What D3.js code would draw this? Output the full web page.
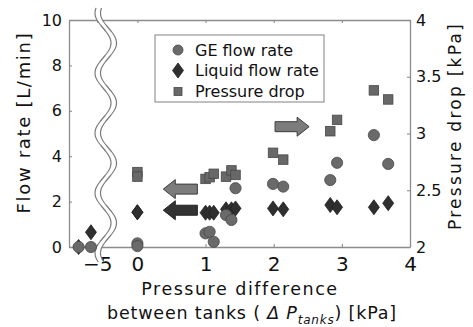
<!DOCTYPE html>
<html>
<head>
<meta charset="utf-8">
<script src="https://cdn.jsdelivr.net/npm/d3@7"></script>
<style>
  html, body { margin: 0; padding: 0; background: #fff; }
  svg { display: block; font-family: "DejaVu Sans", "Liberation Sans", sans-serif; }
</style>
</head>
<body>
<svg id="chart" width="473" height="327"></svg>
<script>
// Pressure difference between the tanks for each run [kPa]
const dpTanks = [-5.27, -5.09, 0, 0, 1.0, 1.06, 1.12, 1.3, 1.38, 1.44, 1.99, 2.14, 2.83, 2.93, 3.47, 3.68];
// GE flow rate [L/min]
const geFlow = [0, 0, 0.16, 0.04, 0.6, 0.67, 0.23, 1.41, 1.19, 2.59, 2.78, 2.66, 2.95, 3.71, 4.93, 3.66];
// Liquid flow rate [L/min]
const liquidFlow = [0, 0.65, 1.53, 1.53, 1.51, 1.51, 1.51, 1.66, 1.66, 1.70, 1.70, 1.66, 1.85, 1.75, 1.75, 1.93];
// Pressure drop [kPa] (not measured for the reversed runs)
const pressureDrop = [null, null, 2.66, 2.62, 2.60, 2.615, 2.645, 2.62, 2.675, 2.635, 2.83, 2.77, 3.02, 3.12, 3.38, 3.30];

const xTicks = [-5, 0, 1, 2, 3, 4];
const flowTicks = [0, 2, 4, 6, 8, 10];
const dropTicks = [2, 2.5, 3, 3.5, 4];
const legendLabels = ["GE flow rate", "Liquid flow rate", "Pressure drop"];

const svg = d3.select("#chart");
const plot = { left: 69, right: 410, top: 20, bottom: 247 };
const axisColor = "#8c8c8c";
const textColor = "#111";
const fontFamily = '"DejaVu Sans", "Liberation Sans", sans-serif';

// Broken x scale: a short segment around -5, then 0..4
const breakPx = 104;
const x = d3.scaleLinear()
  .domain([-5.41, -4.9, -0.49, 4])
  .range([plot.left, breakPx, breakPx, plot.right]);
const yFlow = d3.scaleLinear().domain([0, 10]).range([plot.bottom, plot.top]);
const yDrop = d3.scaleLinear().domain([2, 4]).range([plot.bottom, plot.top]);

function styleAxis(g, fontSize) {
  g.attr("font-family", fontFamily).attr("font-size", fontSize);
  g.select(".domain").attr("stroke", axisColor).attr("stroke-width", 1.3);
  g.selectAll(".tick line").attr("stroke", axisColor).attr("stroke-width", 1.1);
  g.selectAll(".tick text").attr("fill", textColor);
}

const fmt = d3.format("~g");

svg.append("g")
  .attr("transform", `translate(0,${plot.top})`)
  .call(d3.axisTop(x).tickValues(xTicks).tickSize(-3).tickSizeOuter(0).tickFormat(""))
  .call(g => styleAxis(g, 20));

svg.append("g")
  .attr("transform", `translate(${plot.left},0)`)
  .call(d3.axisLeft(yFlow).tickValues(flowTicks).tickSize(-3).tickSizeOuter(0).tickPadding(7).tickFormat(fmt))
  .call(g => styleAxis(g, 16));

svg.append("g")
  .attr("transform", `translate(${plot.right},0)`)
  .call(d3.axisRight(yDrop).tickValues(dropTicks).tickSize(-3).tickSizeOuter(0).tickPadding(6).tickFormat(fmt))
  .call(g => styleAxis(g, 16));

svg.append("g")
  .attr("transform", `translate(0,${plot.bottom})`)
  .call(d3.axisBottom(x).tickValues(xTicks).tickSize(-3).tickSizeOuter(0).tickPadding(10).tickFormat(fmt))
  .call(g => styleAxis(g, 20));

// Axis break: two wavy lines with a white band between them
const wave = y => breakPx - 1 + 8 * Math.sin(2 * Math.PI * (y - 28) / 60);
const gap = 5.5;
const ys = d3.range(8, 263, 1);
svg.append("path")
  .datum(ys)
  .attr("fill", "#fff")
  .attr("d", d3.area().y(d => d).x0(d => wave(d)).x1(d => wave(d) + gap));
[0, gap].forEach(off => {
  svg.append("path")
    .datum(ys)
    .attr("fill", "none")
    .attr("stroke", "#7a7a7a")
    .attr("stroke-width", 1.2)
    .attr("d", d3.line().y(d => d).x(d => wave(d) + off));
});

// Direction arrows: which axis each series belongs to
function arrowPath(x0, x1, yc, dir) {
  const bh = 5, hh = 9.5, hl = 12;
  const tip = dir < 0 ? x0 : x1;
  const tail = dir < 0 ? x1 : x0;
  const s = dir < 0 ? 1 : -1;
  const hb = tip + s * hl;
  return `M${tip},${yc} L${hb},${yc - hh} L${hb},${yc - bh} L${tail},${yc - bh} ` +
         `L${tail},${yc + bh} L${hb},${yc + bh} L${hb},${yc + hh} Z`;
}
const arrows = [
  { x0: 0.38, x1: 0.88, y: 2.55, dir: -1, fill: "#7c7c7c", stroke: "#3c3c3c" },
  { x0: 0.38, x1: 0.88, y: 1.62, dir: -1, fill: "#333", stroke: "#222" },
  { x0: 2.02, x1: 2.52, y: 5.3, dir: 1, fill: "#7c7c7c", stroke: "#3c3c3c" }
];
svg.append("g").selectAll("path")
  .data(arrows)
  .join("path")
  .attr("d", d => arrowPath(x(d.x0), x(d.x1), yFlow(d.y), d.dir))
  .attr("fill", d => d.fill)
  .attr("stroke", d => d.stroke)
  .attr("stroke-width", 1);

// Markers
const circleStyle = { fill: "#6a6a6a", stroke: "#484848" };
const squareStyle = { fill: "#686868", stroke: "#484848" };
const diamondStyle = { fill: "#2f2f2f", stroke: "#1e1e1e" };
const sq = 9.5;
const diamondD = (cx, cy) => `M${cx},${cy - 7.5} L${cx + 5.5},${cy} L${cx},${cy + 7.5} L${cx - 5.5},${cy} Z`;

const runs = dpTanks.map((d, i) => ({ dp: d, ge: geFlow[i], liq: liquidFlow[i], pd: pressureDrop[i] }));

svg.append("g").selectAll("rect")
  .data(runs.filter(d => d.pd != null))
  .join("rect")
  .attr("x", d => x(d.dp) - sq / 2)
  .attr("y", d => yDrop(d.pd) - sq / 2)
  .attr("width", sq).attr("height", sq)
  .attr("fill", squareStyle.fill).attr("stroke", squareStyle.stroke).attr("stroke-width", 0.8);

svg.append("g").selectAll("path")
  .data(runs)
  .join("path")
  .attr("d", d => diamondD(x(d.dp), yFlow(d.liq)))
  .attr("fill", diamondStyle.fill).attr("stroke", diamondStyle.stroke).attr("stroke-width", 0.8);

svg.append("g").selectAll("circle")
  .data(runs)
  .join("circle")
  .attr("cx", d => x(d.dp))
  .attr("cy", d => yFlow(d.ge))
  .attr("r", 5.6)
  .attr("fill", circleStyle.fill).attr("stroke", circleStyle.stroke).attr("stroke-width", 0.8);

// Legend
const lg = svg.append("g");
lg.append("rect")
  .attr("x", 155).attr("y", 35).attr("width", 169).attr("height", 67)
  .attr("fill", "#fff").attr("stroke", axisColor).attr("stroke-width", 1.1);
const rowY = [50, 70.5, 91.5];
lg.append("circle").attr("cx", 178).attr("cy", rowY[0]).attr("r", 5)
  .attr("fill", circleStyle.fill).attr("stroke", circleStyle.stroke).attr("stroke-width", 0.8);
lg.append("path").attr("d", diamondD(178, rowY[1]))
  .attr("fill", diamondStyle.fill).attr("stroke", diamondStyle.stroke).attr("stroke-width", 0.8);
lg.append("rect").attr("x", 178 - 4).attr("y", rowY[2] - 4).attr("width", 8).attr("height", 8)
  .attr("fill", squareStyle.fill).attr("stroke", squareStyle.stroke).attr("stroke-width", 0.8);
lg.selectAll("text")
  .data(legendLabels)
  .join("text")
  .attr("x", 195)
  .attr("y", (d, i) => rowY[i] + 5.5)
  .attr("font-size", 16)
  .attr("fill", textColor)
  .text(d => d);

// Spread letters so a label fills a given width
function fitWidth(sel, target) {
  const node = sel.node();
  const n = node.getNumberOfChars();
  const w = node.getComputedTextLength();
  sel.attr("letter-spacing", ((target - w) / n).toFixed(2));
}

// Axis titles
const yTitle = svg.append("text")
  .attr("transform", "translate(29.5,122.6) rotate(-90)")
  .attr("text-anchor", "middle")
  .attr("font-size", 18)
  .attr("fill", textColor)
  .text("Flow rate [L/min]");
fitWidth(yTitle, 182);

const y2Title = svg.append("text")
  .attr("transform", "translate(461,126) rotate(-90)")
  .attr("text-anchor", "middle")
  .attr("font-size", 17)
  .attr("fill", textColor)
  .text("Pressure drop [kPa]");
fitWidth(y2Title, 208);

const xTitle1 = svg.append("text")
  .attr("x", 240).attr("y", 295)
  .attr("text-anchor", "middle")
  .attr("font-size", 17.5)
  .attr("fill", textColor)
  .text("Pressure difference");
fitWidth(xTitle1, 197);

const xTitle2 = svg.append("text")
  .attr("x", 252).attr("y", 319)
  .attr("text-anchor", "middle")
  .attr("font-size", 17.5)
  .attr("fill", textColor);
xTitle2.append("tspan").text("between tanks ( ");
xTitle2.append("tspan").attr("font-style", "italic").text("Δ P");
xTitle2.append("tspan").attr("font-style", "italic").attr("font-size", 12).attr("dy", 5).text("tanks");
xTitle2.append("tspan").attr("dy", -5).text(") [kPa]");
fitWidth(xTitle2, 290);
</script>
</body>
</html>
